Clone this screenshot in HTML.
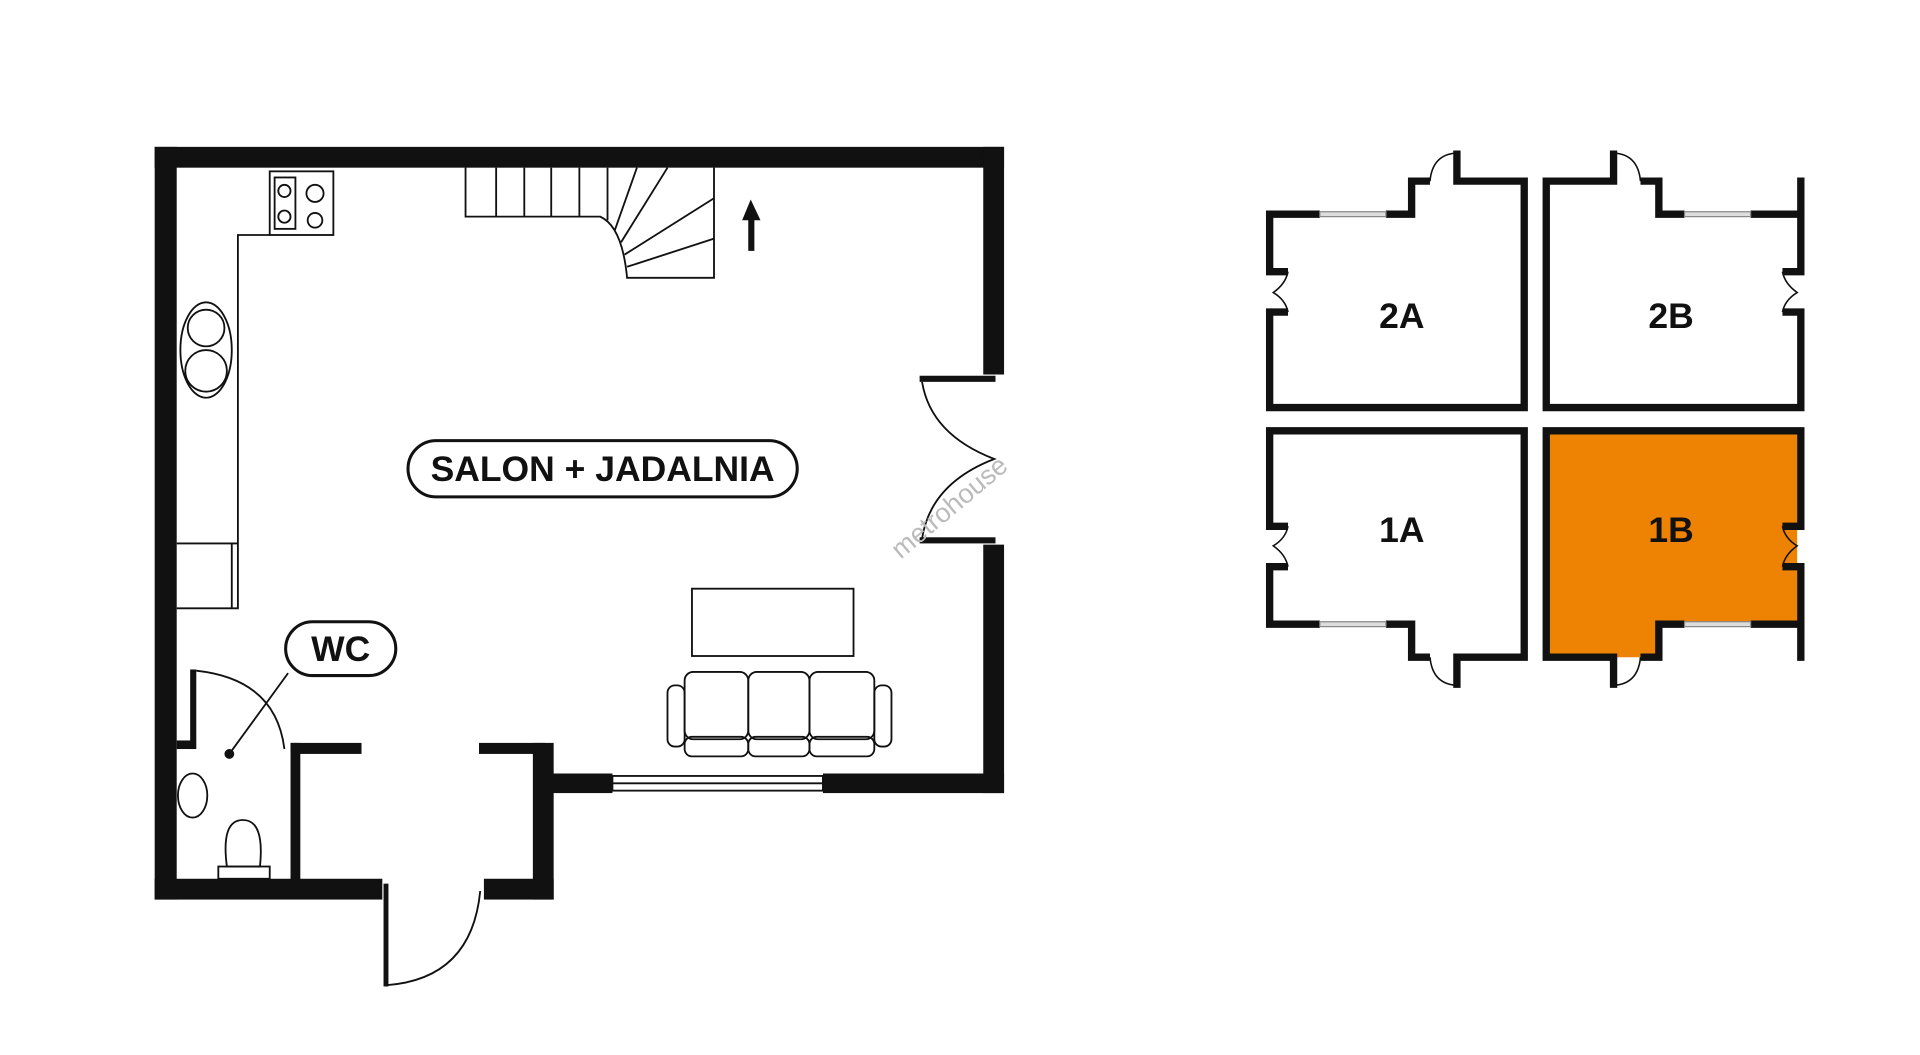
<!DOCTYPE html>
<html><head><meta charset="utf-8"><style>html,body{margin:0;padding:0;background:#fff}svg{display:block}</style></head>
<body>
<svg width="1920" height="1055" viewBox="0 0 1568 862" xmlns="http://www.w3.org/2000/svg" font-family="Liberation Sans, sans-serif">
<rect width="1568" height="862" fill="#fff"/>
<g fill="#111">
<rect x="126" y="120" width="694" height="17"/>
<rect x="126" y="120" width="18" height="615"/>
<rect x="803" y="120" width="17" height="186"/>
<rect x="803" y="445" width="17" height="203"/>
<rect x="751" y="307" width="62" height="5"/>
<rect x="751" y="439" width="62" height="5"/>
<rect x="672" y="632" width="148" height="16"/>
<rect x="445" y="632" width="55" height="16"/>
<rect x="435" y="607" width="17" height="128"/>
<rect x="391" y="607" width="54" height="9"/>
<rect x="237" y="607" width="58" height="9"/>
<rect x="237" y="607" width="8" height="113"/>
<rect x="126" y="718" width="186" height="17"/>
<rect x="395" y="718" width="57" height="17"/>
<rect x="155" y="547" width="5" height="65"/>
<rect x="144" y="605" width="14" height="7"/>
<rect x="313" y="722" width="4" height="84"/>
</g>
<g fill="none" stroke="#111" stroke-width="1.5">
<rect x="500" y="634" width="172" height="12"/>
<line x1="500" y1="640" x2="672" y2="640"/>
<path d="M315 805 Q385 800 392 728"/>
<path d="M160 548 Q225 555 232 612"/>
<path d="M753 312 Q760 355 812 375 Q760 395 753 440"/>
<line x1="235" y1="550" x2="187" y2="616"/>
<polyline points="220,192 194,192 194,497 144,497"/>
<line x1="144" y1="444" x2="194" y2="444"/>
<line x1="189" y1="444" x2="189" y2="497"/>
<rect x="220" y="140" width="52" height="52"/>
<rect x="224" y="145" width="17" height="42"/>
<circle cx="232" cy="156" r="5"/><circle cx="232" cy="177" r="5"/>
<circle cx="257" cy="158" r="7"/><circle cx="257" cy="180" r="6"/>
<ellipse cx="168" cy="286" rx="21" ry="39"/>
<circle cx="168" cy="268" r="15"/><circle cx="168" cy="303" r="17"/>
<path d="M380 137 V177 H490 Q508 185 512 227 H583 V137"/>
<line x1="405" y1="137" x2="405" y2="177"/><line x1="428" y1="137" x2="428" y2="177"/>
<line x1="450" y1="137" x2="450" y2="177"/><line x1="473" y1="137" x2="473" y2="177"/>
<line x1="496" y1="137" x2="496" y2="180"/>
<line x1="520" y1="137" x2="502" y2="188"/>
<line x1="545" y1="137" x2="507" y2="198"/>
<line x1="583" y1="162" x2="510" y2="208"/>
<line x1="583" y1="195" x2="512" y2="218"/>
<rect x="565" y="481" width="132" height="55"/>
<rect x="545" y="560" width="14" height="50" rx="6"/>
<rect x="714" y="560" width="14" height="50" rx="6"/>
<rect x="559" y="549" width="52" height="55" rx="7"/>
<rect x="611" y="549" width="50" height="55" rx="7"/>
<rect x="661" y="549" width="53" height="55" rx="7"/>
<rect x="559" y="602" width="52" height="16" rx="6"/>
<rect x="611" y="602" width="50" height="16" rx="6"/>
<rect x="661" y="602" width="53" height="16" rx="6"/>
<ellipse cx="157" cy="650" rx="12" ry="18"/>
<path d="M185 708 Q180 670 198 670 Q216 670 212 708 Z"/>
<rect x="178" y="708" width="42" height="10"/>
</g>
<circle cx="187" cy="616" r="4" fill="#111"/>
<path d="M613 163 L606 180 H611 V205 H616 V180 H621 Z" fill="#111"/>
<rect x="333" y="360" width="318" height="46" rx="23" fill="#fff" stroke="#111" stroke-width="2.5"/>
<text x="492" y="393" text-anchor="middle" font-size="29" font-weight="bold" fill="#111">SALON + JADALNIA</text>
<rect x="233" y="508" width="90" height="44" rx="22" fill="#fff" stroke="#111" stroke-width="2.5"/>
<text x="278" y="540" text-anchor="middle" font-size="29" font-weight="bold" fill="#111">WC</text>
<text x="780" y="420" text-anchor="middle" font-size="22" fill="#bbb" transform="rotate(-40 780 420)">metrohouse</text>
<defs>
<g id="unit">
<path d="M1132 175 H1153 V148 H1168 M1190 123 V148 H1245 V333 H1037 V255 H1052 M1052 222 H1037 V175 H1078" fill="none" stroke="#111" stroke-width="6"/>
<path d="M1168 148 Q1170 126 1190 125 M1052 222 Q1050 232 1040 239 Q1050 245 1052 255" fill="none" stroke="#111" stroke-width="1.3"/>
<rect x="1078" y="173" width="54" height="4" fill="#ddd" stroke="#888" stroke-width="1"/>
</g>
</defs>
<path d="M1265 352 H1468 V510 H1355 V537 H1265 Z" fill="#EE8203"/>
<use href="#unit"/>
<use href="#unit" transform="translate(2508 0) scale(-1 1)"/>
<use href="#unit" transform="translate(0 685) scale(1 -1)"/>
<use href="#unit" transform="translate(2508 685) scale(-1 -1)"/>
<line x1="1471" y1="145" x2="1471" y2="175" stroke="#111" stroke-width="6"/>
<line x1="1471" y1="510" x2="1471" y2="540" stroke="#111" stroke-width="6"/>
<g font-size="29" font-weight="bold" fill="#111" text-anchor="middle">
<text x="1145" y="268">2A</text><text x="1365" y="268">2B</text>
<text x="1145" y="443">1A</text><text x="1365" y="443">1B</text>
</g>
</svg>
</body></html>
